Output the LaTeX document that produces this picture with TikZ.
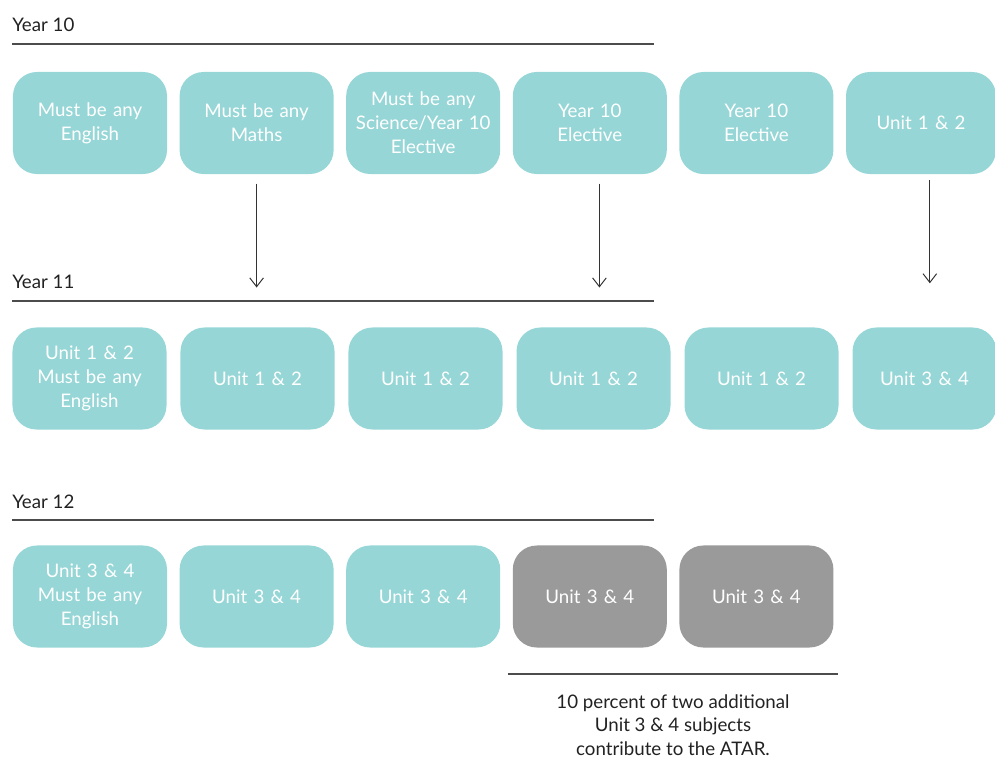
\documentclass[tikz,border=0pt]{standalone}
\usepackage{fontspec}
\setmainfont{Lato}
\usetikzlibrary{positioning, arrows.meta}
\usepackage{xcolor}
\definecolor{teal10}{HTML}{97D6D6}
\definecolor{greybox}{HTML}{9A9A9A}
\definecolor{ink}{HTML}{222222}

\begin{document}
\begin{tikzpicture}[
  x=0.025cm, y=-0.025cm,
  font=\fontsize{13.3}{17}\selectfont, >={Straight Barb[length=2.2mm, width=3.4mm]},
  subj/.style={rounded corners=0.6cm, fill=teal10, text=white, align=center,
    minimum width=3.85cm, minimum height=2.55cm, text width=3.6cm, inner sep=0pt},
  extra/.style={subj, fill=greybox},
  head/.style={anchor=west, text=ink, inner sep=0pt},
  rule/.style={draw=black!70, line width=0.9pt},
  flow/.style={->, draw=black!80, line width=0.7pt},
]
\useasboundingbox (0,0) rectangle (995,758);
% ---- year 10 ----
\node[head] (y10) at (12,25) {Year 10};
\draw[rule] (12,44) -- (654,44);
\node[subj] (eng10) at (90,123) {Must be any\\English};
\node[subj, right=0.30cm of eng10] (mat10) {Must be any\\Maths};
\node[subj, right=0.30cm of mat10] (sci10) {Must be any\\Science/Year 10\\Elective};
\node[subj, right=0.30cm of sci10] (ela10) {Year 10\\Elective};
\node[subj, right=0.30cm of ela10] (elb10) {Year 10\\Elective};
\node[subj, right=0.30cm of elb10, minimum width=3.75cm, text width=3.5cm] (u12a) {Unit 1 \& 2};
% ---- year 11 ----
\node[head] (y11) at (12,282) {Year 11};
\draw[rule] (12,301) -- (654,301);
\node[subj] (eng11) at (89.5,378.5) {Unit 1 \& 2\\Must be any\\English};
\node[subj, right=0.335cm of eng11] (u11b) {Unit 1 \& 2};
\node[subj, right=0.335cm of u11b] (u11c) {Unit 1 \& 2};
\node[subj, right=0.335cm of u11c] (u11d) {Unit 1 \& 2};
\node[subj, right=0.335cm of u11d] (u11e) {Unit 1 \& 2};
\node[subj, right=0.335cm of u11e, minimum width=3.6cm, text width=3.4cm] (u34a) {Unit 3 \& 4};
% ---- year 12 ----
\node[head] (y12) at (12,502) {Year 12};
\draw[rule] (12,520) -- (654,520);
\node[subj] (eng12) at (90,596.5) {Unit 3 \& 4\\Must be any\\English};
\node[subj, right=0.30cm of eng12] (u12b) {Unit 3 \& 4};
\node[subj, right=0.30cm of u12b] (u12c) {Unit 3 \& 4};
\node[extra, right=0.30cm of u12c] (add1) {Unit 3 \& 4};
\node[extra, right=0.30cm of add1] (add2) {Unit 3 \& 4};
% ---- note under the grey boxes ----
\draw[rule] (508,674) -- (838,674);
\node[align=center, text=ink, font=\fontsize{13.3}{16.5}\selectfont] (note) at (673,725)
  {10 percent of two additional\\Unit 3 \& 4 subjects\\contribute to the ATAR.};
% ---- arrows ----
\draw[flow] ([yshift=-0.23cm]mat10.south) -- ++(0,104);
\draw[flow] ([xshift=0.24cm, yshift=-0.23cm]ela10.south) -- ++(0,104);
\draw[flow] ([xshift=0.22cm, yshift=-0.15cm]u12a.south) -- ++(0,103);
\end{tikzpicture}
\end{document}
